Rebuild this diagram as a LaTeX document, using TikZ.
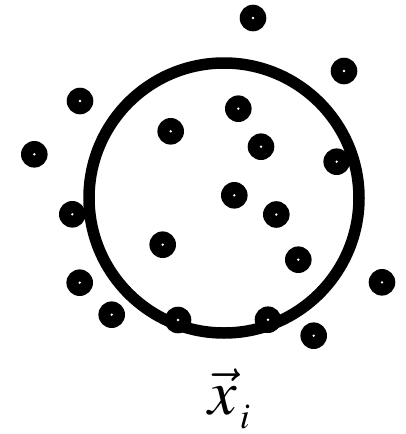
\documentclass[tikz,border=0pt]{standalone}
\usepackage{mathptmx}
\begin{document}
\begin{tikzpicture}[x=1pt,y=-1pt,
  ring/.style={draw=black, circle, line width=11.5pt, minimum size=270pt, inner sep=0pt},
  pt/.style={circle, fill=black, minimum size=26.6pt, inner sep=0pt,
    path picture={\fill[white] (path picture bounding box.center) circle (1.3pt);}},
  lbl/.style={inner sep=0pt, font=\fontsize{64}{68}\selectfont}]
\useasboundingbox (0,0) rectangle (405,434);
\node[ring] (c) at (224,198) {};
\node[pt] (p1) at (253,18) {};
\node[pt] (p2) at (344,71) {};
\node[pt] (p3) at (80,101) {};
\node[pt] (p4) at (238.3,108.7) {};
\node[pt] (p5) at (170.7,131.3) {};
\node[pt] (p6) at (34.3,154.3) {};
\node[pt] (p7) at (261,146.7) {};
\node[pt] (p8) at (336.7,161.7) {};
\node[pt] (p9) at (234.3,195.3) {};
\node[pt] (p10) at (72.3,214.3) {};
\node[pt] (p11) at (276.3,214.5) {};
\node[pt] (p12) at (162.7,244.7) {};
\node[pt] (p13) at (298.3,259.7) {};
\node[pt] (p14) at (79.7,282.7) {};
\node[pt] (p15) at (382,282.3) {};
\node[pt] (p16) at (111.7,314.7) {};
\node[pt] (p17) at (178,320) {};
\node[pt] (p18) at (268,319.7) {};
\node[pt] (p19) at (313.7,335.7) {};
\node[lbl, anchor=base west] (lab) at (208,414) {$\vec{x}\kern3pt\lower14pt\hbox{\fontsize{36}{36}\selectfont$i$}$};
\end{tikzpicture}
\end{document}
